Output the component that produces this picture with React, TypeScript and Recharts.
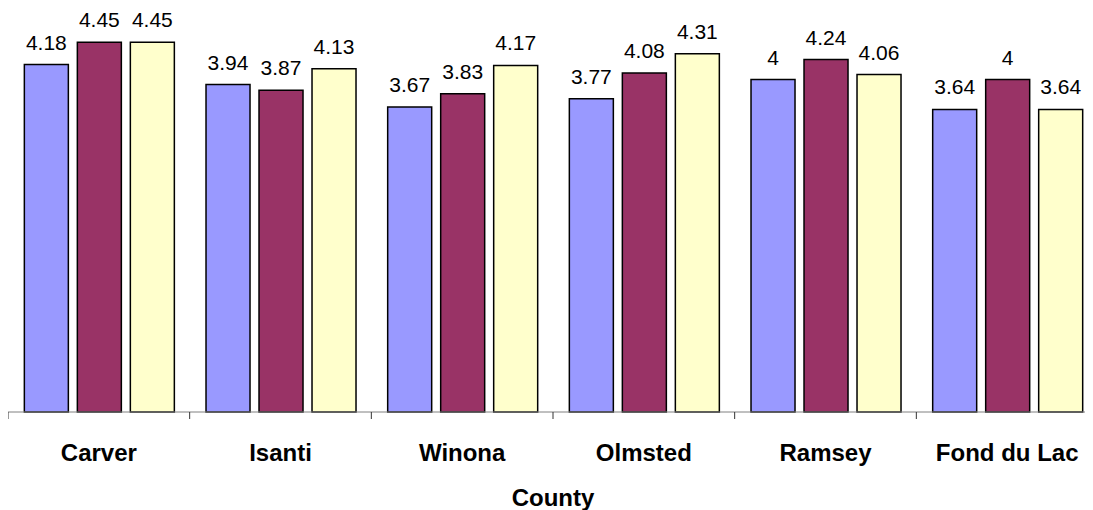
import React from "react";
import { BarChart, Bar, XAxis, YAxis, LabelList, Label } from "recharts";

const counties = ["Carver", "Isanti", "Winona", "Olmsted", "Ramsey", "Fond du Lac"];
const seriesA = [4.18, 3.94, 3.67, 3.77, 4, 3.64];
const seriesB = [4.45, 3.87, 3.83, 4.08, 4.24, 4];
const seriesC = [4.45, 4.13, 4.17, 4.31, 4.06, 3.64];

const data = counties.map((c, i) => ({ county: c, a: seriesA[i], b: seriesB[i], c: seriesC[i] }));

const TICK_SIZE = 7;
const TICK_MARGIN = 25;

const CustomTick = (props: any) => {
  const { x, y, payload } = props;
  const half = payload && payload.offset ? payload.offset : 90.8;
  const axisY = y - TICK_SIZE - TICK_MARGIN;
  return (
    <g>
      <line x1={x - half} x2={x - half} y1={axisY} y2={axisY + TICK_SIZE} stroke="#333" strokeWidth={1} />
      <text
        x={x}
        y={y}
        dy="0.71em"
        textAnchor="middle"
        fontFamily="Liberation Sans, Arial, sans-serif"
        fontWeight="bold"
        fontSize={24}
        fill="#000"
      >
        {payload.value}
      </text>
    </g>
  );
};

const labelStyle = { fontFamily: "Liberation Sans, Arial, sans-serif", fontSize: 21, fill: "#000" };

export default function App() {
  return (
    <BarChart
      width={1090}
      height={502}
      data={data}
      margin={{ top: 30, right: 0, left: 0, bottom: 0 }}
      barCategoryGap="9%"
      barGap={9}
    >
      <YAxis hide domain={[0, 4.5]} />
      <XAxis
        dataKey="county"
        height={98}
        stroke="#808080"
        tickLine={false}
        tickSize={TICK_SIZE}
        tickMargin={TICK_MARGIN}
        tick={<CustomTick />}
        interval={0}
      >
        <Label
          value="County"
          position="insideBottom"
          offset={4}
          style={{ fontFamily: "Liberation Sans, Arial, sans-serif", fontWeight: "bold", fontSize: 24, fill: "#000" }}
        />
      </XAxis>
      <Bar dataKey="a" fill="#9999FF" stroke="#000" strokeWidth={1.5} isAnimationActive={false}>
        <LabelList dataKey="a" position="top" offset={15} style={labelStyle} />
      </Bar>
      <Bar dataKey="b" fill="#993366" stroke="#000" strokeWidth={1.5} isAnimationActive={false}>
        <LabelList dataKey="b" position="top" offset={15} style={labelStyle} />
      </Bar>
      <Bar dataKey="c" fill="#FFFFCC" stroke="#000" strokeWidth={1.5} isAnimationActive={false}>
        <LabelList dataKey="c" position="top" offset={15} style={labelStyle} />
      </Bar>
    </BarChart>
  );
}
